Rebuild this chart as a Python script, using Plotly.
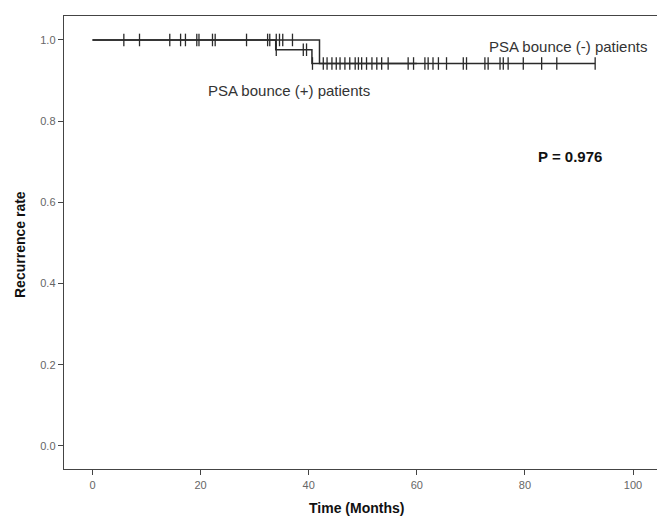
import plotly.graph_objects as go

# --- Data ---
# PSA bounce (-) patients: step curve
neg_times = [0, 42.0, 93.0]
neg_surv = [1.0, 0.942, 0.942]
neg_censor_hi = [5.8, 8.7, 14.3, 16.3, 17.2, 19.3, 19.7, 22.2, 22.7, 28.5, 32.4,
                 32.8, 34.0, 34.6, 35.2, 37.0]
neg_censor_lo = [42.7, 43.4, 44.3, 45.1, 45.8, 46.7, 47.6, 48.6, 49.2, 49.8, 50.7,
                 51.7, 52.6, 53.5, 54.7, 58.4, 59.4, 61.5, 62.1, 63.0, 64.0, 65.5,
                 68.6, 69.2, 72.6, 73.2, 75.4, 76.0, 76.9, 79.7, 83.1, 85.9, 93.0]
# PSA bounce (+) patients: step curve
pos_times = [0, 33.9, 40.6, 60.0]
pos_surv = [1.0, 0.976, 0.942, 0.942]
pos_censor_mid = [34.0, 39.0, 39.6]
pos_censor_lo = [40.7]

x_ticks = [0, 20, 40, 60, 80, 100]
y_ticks = [0.0, 0.2, 0.4, 0.6, 0.8, 1.0]
y_ticktext = ["0.0", "0.2", "0.4", "0.6", "0.8", "1.0"]

LINE = "#2a2a2a"
font_main = "Liberation Sans, Arial, sans-serif"

W, H = 657, 518
ml, mr, mt, mb = 64, 0, 16, 49
pw, ph = W - ml - mr, H - mt - mb

def px_to_paper(sx, sy):
    return (sx - ml) / pw, 1 - (sy - mt) / ph

fig = go.Figure()
fig.add_trace(go.Scatter(x=neg_times, y=neg_surv, mode="lines", line_shape="hv",
                         line=dict(color=LINE, width=1.5), showlegend=False, hoverinfo="skip"))
fig.add_trace(go.Scatter(x=pos_times, y=pos_surv, mode="lines", line_shape="hv",
                         line=dict(color=LINE, width=1.5), showlegend=False, hoverinfo="skip"))

def censor(xs, level):
    return go.Scatter(x=xs, y=[level] * len(xs), mode="markers",
                      marker=dict(symbol="line-ns", size=9,
                                  line=dict(width=1.3, color=LINE)),
                      showlegend=False, hoverinfo="skip")

fig.add_trace(censor(neg_censor_hi, neg_surv[0]))
fig.add_trace(censor(neg_censor_lo, neg_surv[-1]))
fig.add_trace(censor(pos_censor_mid, pos_surv[1]))
fig.add_trace(censor(pos_censor_lo, pos_surv[-1]))

fig.add_annotation(x=72.9, y=0.985, xref="x", yref="y", text="PSA bounce (-) patients",
                   showarrow=False, xanchor="left", yanchor="middle",
                   font=dict(family=font_main, size=15, color="#333"))
fig.add_annotation(x=21.0, y=0.875, xref="x", yref="y", text="PSA bounce (+) patients",
                   showarrow=False, xanchor="left", yanchor="middle",
                   font=dict(family=font_main, size=15, color="#333"))
fig.add_annotation(x=82.0, y=0.712, xref="x", yref="y", text="<b>P = 0.976</b>",
                   showarrow=False, xanchor="left", yanchor="middle",
                   font=dict(family=font_main, size=15, color="#111"))

# axis titles (positioned in screen pixels)
ax, ay = px_to_paper(20, 245)
fig.add_annotation(x=ax, y=ay, xref="paper", yref="paper", text="<b>Recurrence rate</b>",
                   showarrow=False, textangle=-90, xanchor="center", yanchor="middle",
                   font=dict(family=font_main, size=14, color="#111"))
bx, by = px_to_paper(356, 508)
fig.add_annotation(x=bx, y=by, xref="paper", yref="paper", text="<b>Time (Months)</b>",
                   showarrow=False, xanchor="center", yanchor="middle",
                   font=dict(family=font_main, size=14, color="#111"))

fig.update_layout(
    width=W, height=H,
    margin=dict(l=ml, r=mr, t=mt, b=mb, autoexpand=False),
    paper_bgcolor="white", plot_bgcolor="white",
    hovermode=False,
    xaxis=dict(range=[-5.27, 104.44], tickvals=x_ticks, ticks="outside", ticklen=5,
               tickcolor="#444", tickwidth=1, showgrid=False, zeroline=False,
               showline=True, linecolor="#444", linewidth=1.3, mirror=True,
               tickfont=dict(family=font_main, size=11, color="#666")),
    yaxis=dict(range=[-0.0567, 1.059], tickvals=y_ticks, ticktext=y_ticktext,
               ticks="outside", ticklen=5,
               tickcolor="#444", tickwidth=1, showgrid=False, zeroline=False,
               showline=True, linecolor="#444", linewidth=1.3, mirror=False,
               tickfont=dict(family=font_main, size=11, color="#666")),
)

fig.write_html(
    "out.html",
    config={"displayModeBar": False, "staticPlot": True},
    post_script="document.body.style.margin='0';document.body.style.overflow='hidden';",
)
